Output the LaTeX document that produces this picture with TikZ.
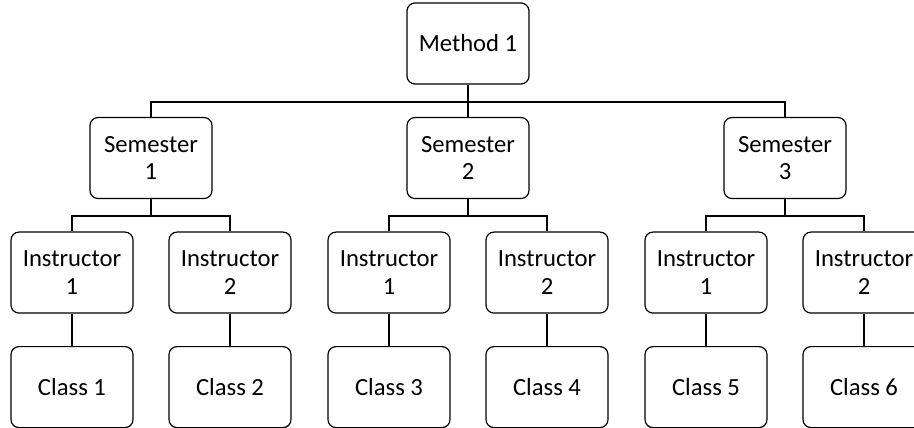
\documentclass[tikz,border=0pt]{standalone}
\usepackage{fontspec}
\setmainfont{Carlito}

\tikzset{box/.style={draw,rounded corners=6pt,line width=0.9pt,minimum width=91.5pt,minimum height=60.75pt,inner sep=0pt,align=center,font=\fontsize{18.5}{20.5}\selectfont},
	link/.style={line width=1.5pt}}

\begin{document}
\begin{tikzpicture}[x=0.75pt,y=0.75pt,level distance=85.9pt,edge from parent/.style={draw=none},level 1/.style={sibling distance=237.75pt},level 2/.style={sibling distance=118.5pt}]
	\clip (0,0) rectangle (914,-428);
	\node[box] (m1) at (468,-43.5) {Method 1}
		child { node[box] (s1) {Semester\\1}
		        child { node[box] (s1i1) {Instructor\\1}
		                child { node[box] (c1) {Class 1} } }
		        child { node[box] (s1i2) {Instructor\\2}
		                child { node[box] (c2) {Class 2} } } }
		child { node[box] (s2) {Semester\\2}
		        child { node[box] (s2i1) {Instructor\\1}
		                child { node[box] (c3) {Class 3} } }
		        child { node[box] (s2i2) {Instructor\\2}
		                child { node[box] (c4) {Class 4} } } }
		child { node[box] (s3) {Semester\\3}
		        child { node[box] (s3i1) {Instructor\\1}
		                child { node[box] (c5) {Class 5} } }
		        child { node[box] (s3i2) {Instructor\\2}
		                child { node[box] (c6) {Class 6} } } }
	;
	% connectors
	\foreach \s in {s1,s2,s3}
		\draw[link] (m1.south) -- ++(0,-17) -| (\s.north);
	\foreach \s/\a/\b in {s1/s1i1/s1i2,s2/s2i1/s2i2,s3/s3i1/s3i2}{
		\draw[link] (\s.south) -- ++(0,-17) -| (\a.north);
		\draw[link] (\s.south) -- ++(0,-17) -| (\b.north);
	}
	\foreach \a/\c in {s1i1/c1,s1i2/c2,s2i1/c3,s2i2/c4,s3i1/c5,s3i2/c6}
		\draw[link] (\a) -- (\c);
\end{tikzpicture}
\end{document}
